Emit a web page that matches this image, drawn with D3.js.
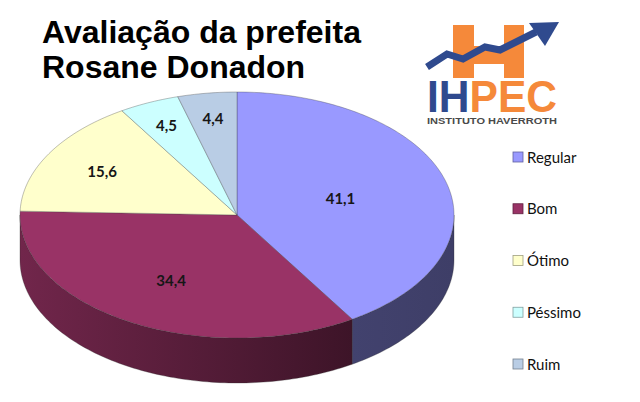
<!DOCTYPE html>
<html>
<head>
<meta charset="utf-8">
<script src="https://cdn.jsdelivr.net/npm/d3@7"></script>
<style>
  body { margin: 0; background: #fff; }
  svg { display: block; }
</style>
</head>
<body>
<svg width="640" height="402"></svg>
<script>
// Chart data
const categories = ["Regular", "Bom", "Ótimo", "Péssimo", "Ruim"];
const values = [41.1, 34.4, 15.6, 4.5, 4.4];
const valueLabels = ["41,1", "34,4", "15,6", "4,5", "4,4"];
const titleLines = ["Avaliação da prefeita", "Rosane Donadon"];

const topColors = ["#9999ff", "#993366", "#ffffcc", "#ccffff", "#b9cde5"];

const width = 640, height = 402;
const cx = 237, cy = 215, rx = 217, ry = 123, depth = 45;

const svg = d3.select("svg");
const defs = svg.append("defs");

svg.append("rect").attr("width", width).attr("height", height).attr("fill", "#fff");

const data = categories.map((c, i) => ({ name: c, value: values[i], label: valueLabels[i], color: topColors[i] }));

const pie = d3.pie()
    .sort(null)
    .value(d => d.value)
    .startAngle(0)
    .endAngle(2 * Math.PI);

const arcs = pie(data);

// projection of a flat circle angle onto the tilted ellipse
const px = a => cx + rx * Math.sin(a);
const py = a => cy - ry * Math.cos(a);

function arcPoints(a0, a1, dy = 0) {
    const n = Math.max(2, Math.ceil(Math.abs(a1 - a0) / 0.02));
    return d3.range(n + 1).map(i => {
        const a = a0 + (a1 - a0) * i / n;
        return [px(a), py(a) + dy];
    });
}

const line = d3.line();
const pieG = svg.append("g");

// Side walls (front half only)
arcs.forEach((d, i) => {
    const s0 = Math.max(d.startAngle, Math.PI / 2);
    const s1 = Math.min(d.endAngle, 3 * Math.PI / 2);
    if (s1 <= s0) return;

    const base = d3.color(d.data.color);
    const gradId = "side" + i;
    const xa = px(s0), xb = px(s1);
    const grad = defs.append("linearGradient")
        .attr("id", gradId)
        .attr("gradientUnits", "userSpaceOnUse")
        .attr("x1", Math.min(xa, xb)).attr("x2", Math.max(xa, xb))
        .attr("y1", 0).attr("y2", 0);
    // lighter on the left, darker towards the right
    const light = base.darker(i === 0 ? 2.35 : 0.85);
    const dark = base.darker(i === 0 ? 2.55 : 2.6);
    grad.append("stop").attr("offset", "0%").attr("stop-color", light);
    grad.append("stop").attr("offset", "100%").attr("stop-color", dark);

    const pts = arcPoints(s0, s1, 0).concat(arcPoints(s1, s0, depth));
    pieG.append("path")
        .attr("d", line(pts) + "Z")
        .attr("fill", `url(#${gradId})`)
        .attr("stroke", "#2a2a2a")
        .attr("stroke-opacity", 0.5)
        .attr("stroke-width", 0.6);
});

// Top faces
pieG.selectAll("path.top")
    .data(arcs)
    .join("path")
    .attr("class", "top")
    .attr("d", d => line([[cx, cy]].concat(arcPoints(d.startAngle, d.endAngle))) + "Z")
    .attr("fill", d => d.data.color)
    .attr("stroke", "#3a3a3a")
    .attr("stroke-opacity", 0.55)
    .attr("stroke-width", 0.6)
    .attr("stroke-linejoin", "round");

// Data labels at the sector centroid, pushed outward for thin slices
pieG.selectAll("text.val")
    .data(arcs)
    .join("text")
    .attr("class", "val")
    .each(function (d) {
        const theta = d.endAngle - d.startAngle;
        const mid = (d.startAngle + d.endAngle) / 2;
        const f = theta > 0.6 ? (2 * Math.sin(theta / 2)) / (1.5 * theta) * (theta > 2.2 ? 1 : 1.12) : 0.8;
        d3.select(this)
            .attr("x", cx + rx * f * Math.sin(mid))
            .attr("y", cy - ry * f * Math.cos(mid) + 6);
    })
    .attr("text-anchor", "middle")
    .attr("font-family", "Lato, 'Open Sans', sans-serif")
    .attr("font-weight", "bold")
    .attr("font-size", 15)
    .attr("fill", "#161616")
    .text(d => d.data.label);

// Title
svg.append("g")
    .selectAll("text")
    .data(titleLines)
    .join("text")
    .attr("x", 42)
    .attr("y", (d, i) => 43 + i * 35)
    .attr("font-family", "'Liberation Sans', Arial, sans-serif")
    .attr("font-weight", "bold")
    .attr("font-size", 32)
    .attr("fill", "#000")
    .text(d => d);

// Legend
const legendY = d3.scalePoint().domain(categories).range([157, 364]);
const legend = svg.append("g")
    .selectAll("g")
    .data(data)
    .join("g")
    .attr("transform", d => `translate(513,${legendY(d.name)})`);

legend.append("rect")
    .attr("x", 0).attr("y", -5)
    .attr("width", 10).attr("height", 10)
    .attr("fill", d => d.color)
    .attr("stroke", d => d3.color(d.color).darker(1.3))
    .attr("stroke-width", 0.8);

legend.append("text")
    .attr("x", 14)
    .attr("y", 5.5)
    .attr("font-family", "Lato, 'Open Sans', sans-serif")
    .attr("font-size", 15)
    .attr("fill", "#111")
    .text(d => d.name);

// Logo (IHPEC)
const logo = svg.append("g");
const orange = "#f5893a", blue = "#2f4a8e";

logo.append("rect").attr("x", 453).attr("y", 25).attr("width", 21).attr("height", 53).attr("fill", orange);
logo.append("rect").attr("x", 504).attr("y", 25).attr("width", 20).attr("height", 53).attr("fill", orange);
logo.append("rect").attr("x", 474).attr("y", 46).attr("width", 30).attr("height", 18).attr("fill", orange);

logo.append("path")
    .attr("d", "M427,67 L447,54 L463,59 L485,47 L500,50 L536,32")
    .attr("fill", "none")
    .attr("stroke", blue)
    .attr("stroke-width", 7)
    .attr("stroke-linejoin", "miter");
logo.append("path")
    .attr("d", "M559,22 L529,23 L545,46 Z")
    .attr("fill", blue);

const ihpec = logo.append("text")
    .attr("x", 427)
    .attr("y", 112)
    .attr("textLength", 130)
    .attr("lengthAdjust", "spacingAndGlyphs")
    .attr("font-family", "'Liberation Sans', Arial, sans-serif")
    .attr("font-weight", "bold")
    .attr("font-size", 45);
ihpec.append("tspan").attr("fill", blue).text("IH");
ihpec.append("tspan").attr("fill", orange).text("PEC");

logo.append("text")
    .attr("x", 427)
    .attr("y", 124)
    .attr("textLength", 130)
    .attr("lengthAdjust", "spacingAndGlyphs")
    .attr("font-family", "'Liberation Sans', Arial, sans-serif")
    .attr("font-weight", "bold")
    .attr("font-size", 9)
    .attr("fill", "#4a4a4a")
    .text("INSTITUTO HAVERROTH");
</script>
</body>
</html>
